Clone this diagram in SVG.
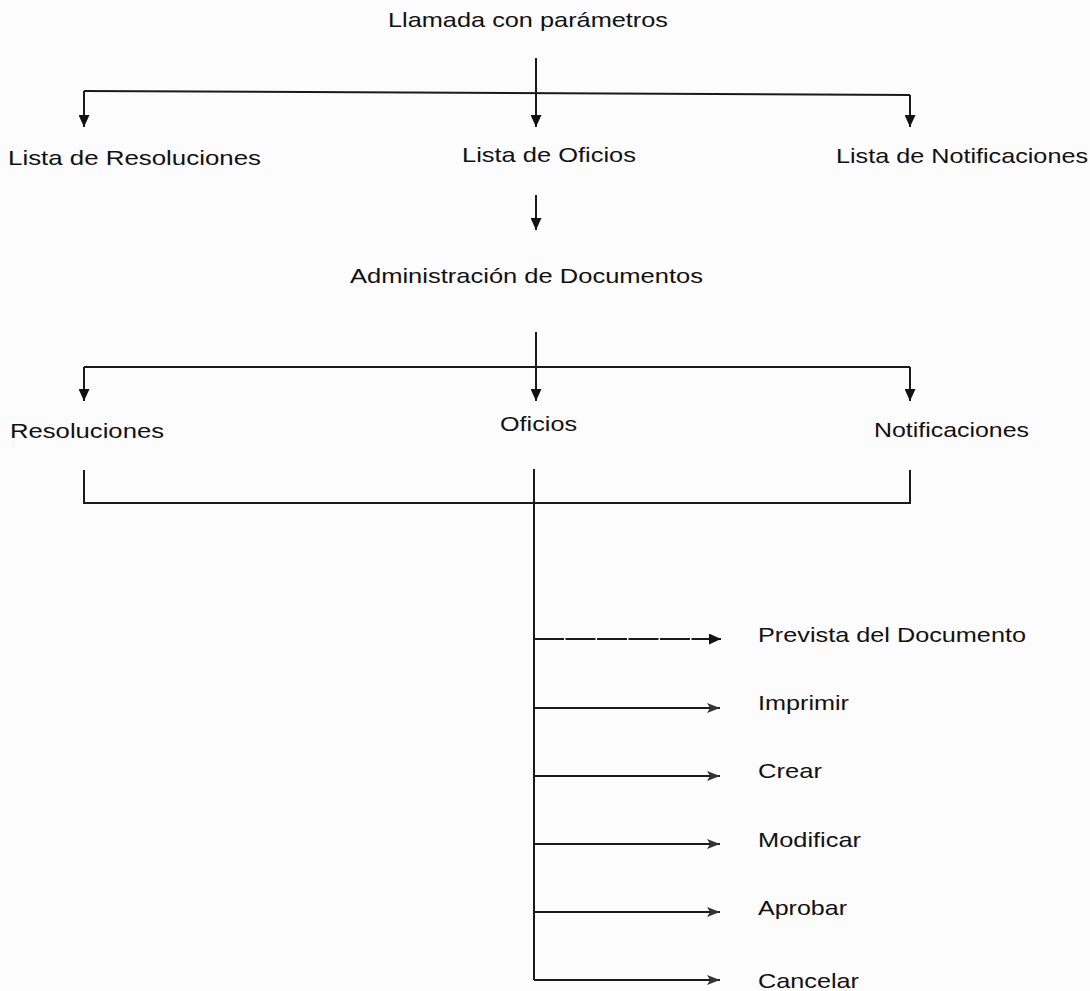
<svg xmlns="http://www.w3.org/2000/svg" width="1090" height="991" viewBox="0 0 1090 991">
<defs>
<style>
.t{font-family:"Liberation Sans",Arial,sans-serif;font-size:21px;fill:#111}
.c{fill:none;stroke:#1a1a1a;stroke-width:2}
.d{marker-end:url(#big)}
.s{marker-end:url(#small)}
</style>
<marker id="big" markerUnits="userSpaceOnUse" markerWidth="13" markerHeight="11" refX="12" refY="5.5" orient="auto">
<path d="M0,0 L12,5.5 L0,11 z" fill="#111"/>
</marker>
<marker id="small" markerUnits="userSpaceOnUse" markerWidth="14" markerHeight="10" refX="13" refY="5" orient="auto">
<path d="M0,0 L13,5 L0,10 L3,5 z" fill="#333"/>
</marker>
</defs>
<rect width="1090" height="991" fill="#fcfcfc"/>
<g id="connectors">
<path class="c d" d="M536,58 V127"/>
<path class="c" d="M84,91 L910,95"/>
<path class="c d" d="M84,91 V127"/>
<path class="c d" d="M910,95 V127"/>
<path class="c d" d="M536,195 V230"/>
<path class="c d" d="M536,332 V401"/>
<path class="c" d="M84,367 H910"/>
<path class="c d" d="M84,367 V401"/>
<path class="c d" d="M910,367 V401"/>
<path class="c" d="M84,470 V503 H910 V470"/>
<path class="c" d="M534,469 V980"/>
<path class="c d" d="M534,639 H721" stroke-dasharray="30 1.5"/>
<path class="c s" d="M534,708 H720"/>
<path class="c s" d="M534,776 H720"/>
<path class="c s" d="M534,844 H720"/>
<path class="c s" d="M534,912 H720"/>
<path class="c s" d="M534,980 H720"/>
</g>
<g id="n-llamada"><text class="t" x="388" y="27" textLength="280" lengthAdjust="spacingAndGlyphs">Llamada con parámetros</text></g>
<g id="n-lista-resoluciones"><text class="t" x="8" y="165" textLength="253" lengthAdjust="spacingAndGlyphs">Lista de Resoluciones</text></g>
<g id="n-lista-oficios"><text class="t" x="462" y="162" textLength="174" lengthAdjust="spacingAndGlyphs">Lista de Oficios</text></g>
<g id="n-lista-notificaciones"><text class="t" x="836" y="163" textLength="252" lengthAdjust="spacingAndGlyphs">Lista de Notificaciones</text></g>
<g id="n-administracion"><text class="t" x="350" y="283" textLength="353" lengthAdjust="spacingAndGlyphs">Administración de Documentos</text></g>
<g id="n-resoluciones"><text class="t" x="10" y="438" textLength="154" lengthAdjust="spacingAndGlyphs">Resoluciones</text></g>
<g id="n-oficios"><text class="t" x="500" y="431" textLength="77" lengthAdjust="spacingAndGlyphs">Oficios</text></g>
<g id="n-notificaciones"><text class="t" x="874" y="437" textLength="155" lengthAdjust="spacingAndGlyphs">Notificaciones</text></g>
<g id="n-prevista"><text class="t" x="758" y="642" textLength="268" lengthAdjust="spacingAndGlyphs">Prevista del Documento</text></g>
<g id="n-imprimir"><text class="t" x="758" y="710" textLength="91" lengthAdjust="spacingAndGlyphs">Imprimir</text></g>
<g id="n-crear"><text class="t" x="758" y="778" textLength="64" lengthAdjust="spacingAndGlyphs">Crear</text></g>
<g id="n-modificar"><text class="t" x="758" y="847" textLength="103" lengthAdjust="spacingAndGlyphs">Modificar</text></g>
<g id="n-aprobar"><text class="t" x="758" y="915" textLength="89" lengthAdjust="spacingAndGlyphs">Aprobar</text></g>
<g id="n-cancelar"><text class="t" x="758" y="988" textLength="101" lengthAdjust="spacingAndGlyphs">Cancelar</text></g>
</svg>
